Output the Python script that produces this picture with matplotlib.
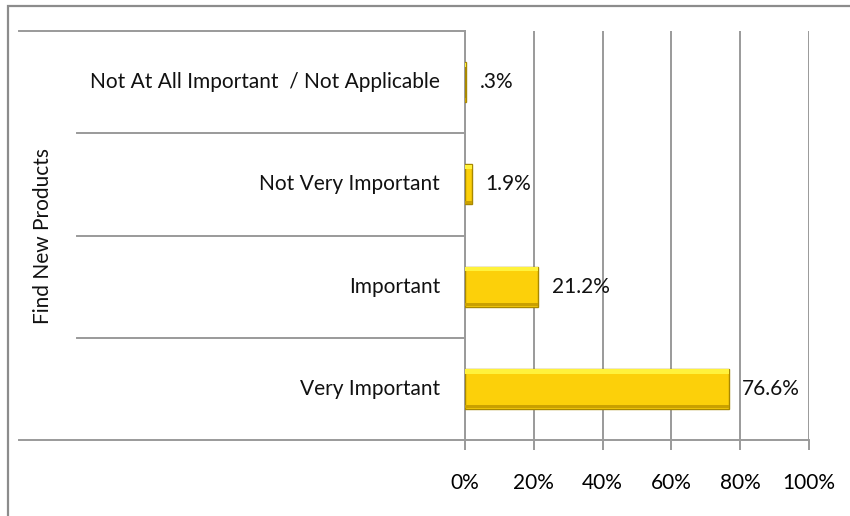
import matplotlib
matplotlib.use("Agg")
import matplotlib.pyplot as plt
from matplotlib.patches import Rectangle

# data (bottom -> top)
categories = ["Very Important", "Important", "Not Very Important",
              "Not At All Important  / Not Applicable"]
values = [76.6, 21.2, 1.9, 0.3]
value_labels = ["76.6%", "21.2%", "1.9%", ".3%"]
xticks = [0, 20, 40, 60, 80, 100]
group_label = "Find New Products"

plt.rcParams["font.family"] = ["Lato", "DejaVu Sans"]
GRID = "#9a9a9a"
FS = 15

fig = plt.figure(figsize=(8.5, 5.16), dpi=100)
ax = fig.add_axes([465 / 850, 1 - 440 / 516, 344 / 850, 409 / 516])

# outer chart border
fig.patches.append(Rectangle((8 / 850, -0.05), 1.1, 1 - 6 / 516 + 0.05,
                             transform=fig.transFigure, fill=False,
                             edgecolor="#8c8c8c", lw=1.6))

ypos = list(range(len(categories)))
h = 0.39
ax.barh(ypos, values, height=h, color="#FCD00A", edgecolor="#A88800",
        lw=1.0, zorder=3)
# bevel: light top strip and darker bottom strip
ax.barh([y + h / 2 - 0.025 for y in ypos], values, height=0.04,
        color="#FFF23C", lw=0, zorder=4)
ax.barh([y - h / 2 + 0.02 for y in ypos], values, height=0.03,
        color="#C9A000", lw=0, zorder=4)

for y, v, lab in zip(ypos, values, value_labels):
    ax.text(v + 4.0, y, lab, va="center", ha="left", fontsize=FS,
            color="#111111")

ax.set_xlim(0, 100)
ax.set_ylim(-0.5, len(categories) - 0.5)
ax.set_xticks(xticks)
ax.set_xticklabels([f"{t}%" for t in xticks], fontsize=FS)
ax.tick_params(axis="x", length=7, width=1.4, color=GRID, pad=17)
ax.set_yticks([])
ax.grid(axis="x", color=GRID, lw=1.4, zorder=0)
for s in ["top", "right"]:
    ax.spines[s].set_visible(False)
ax.spines["left"].set_color(GRID)
ax.spines["left"].set_linewidth(1.4)
ax.spines["bottom"].set_color(GRID)
ax.spines["bottom"].set_linewidth(1.4)

# category separators; outer ones span the group label column
x_outer = (19 - 465) / 344
x_inner = (77 - 465) / 344
n = len(categories)
for yb in [y - 0.5 for y in ypos] + [n - 0.5]:
    x0 = x_outer if yb in (-0.5, n - 0.5) else x_inner
    ax.plot([x0, 0], [yb, yb], transform=ax.get_yaxis_transform(),
            color=GRID, lw=1.4, clip_on=False)

for y, cat in zip(ypos, categories):
    ax.text(-25 / 344, y, cat, transform=ax.get_yaxis_transform(),
            ha="right", va="center", fontsize=FS, color="#111111")

ax.text((43 - 465) / 344, (n - 1) / 2, group_label,
        transform=ax.get_yaxis_transform(), rotation=90,
        ha="center", va="center", fontsize=FS, color="#111111")

fig.savefig("out.png", dpi=100)
